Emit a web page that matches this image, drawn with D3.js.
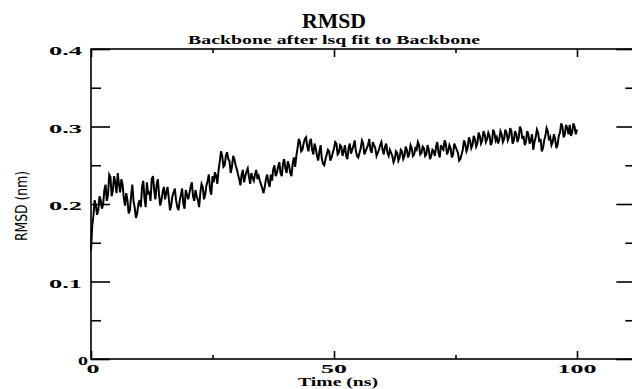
<!DOCTYPE html>
<html lang="en">
	<head>
		<meta charset="utf-8">
		<title>RMSD</title>
		<script src="https://d3js.org/d3.v7.min.js"></script>
		<style type="text/css">
			body {
				margin: 0;
				background: white;
			}
			text {
				font-family: "Liberation Serif", "DejaVu Serif", serif;
				font-weight: bold;
				fill: black;
			}
		</style>
	</head>
	<body>
		<script type="text/javascript">

			//RMSD values (nm), sampled every 0.25 ns from 0 to 100 ns
			var tEnd = 100;
			var rmsd = [
				0.140, 0.172, 0.185, 0.205, 0.198, 0.186, 0.192, 0.210, 0.205, 0.194, 0.200, 0.218, 0.225, 0.204, 0.212, 0.238, 0.235, 0.210, 0.218, 0.236, 0.228,
				0.214, 0.240, 0.226, 0.215, 0.232, 0.225, 0.208, 0.198, 0.214, 0.205, 0.188, 0.192, 0.210, 0.225, 0.204, 0.195, 0.182, 0.188, 0.200, 0.205,
				0.196, 0.222, 0.230, 0.208, 0.196, 0.228, 0.214, 0.215, 0.204, 0.232, 0.236, 0.218, 0.206, 0.225, 0.232, 0.212, 0.198, 0.205, 0.216, 0.222,
				0.206, 0.215, 0.222, 0.208, 0.192, 0.198, 0.210, 0.215, 0.220, 0.205, 0.196, 0.192, 0.204, 0.212, 0.220, 0.200, 0.194, 0.218, 0.212, 0.206,
				0.214, 0.222, 0.228, 0.210, 0.204, 0.218, 0.210, 0.205, 0.196, 0.215, 0.226, 0.222, 0.206, 0.212, 0.224, 0.230, 0.238, 0.218, 0.212, 0.236,
				0.228, 0.241, 0.236, 0.226, 0.244, 0.255, 0.268, 0.262, 0.248, 0.250, 0.262, 0.267, 0.258, 0.255, 0.240, 0.248, 0.262, 0.258, 0.250, 0.245,
				0.238, 0.232, 0.224, 0.238, 0.244, 0.228, 0.236, 0.242, 0.246, 0.235, 0.226, 0.240, 0.234, 0.230, 0.238, 0.244, 0.232, 0.236, 0.230, 0.225,
				0.220, 0.214, 0.222, 0.232, 0.238, 0.228, 0.222, 0.238, 0.230, 0.245, 0.250, 0.236, 0.240, 0.248, 0.254, 0.240, 0.236, 0.252, 0.258, 0.246,
				0.240, 0.255, 0.250, 0.240, 0.236, 0.252, 0.260, 0.248, 0.262, 0.272, 0.284, 0.280, 0.268, 0.270, 0.278, 0.284, 0.286, 0.274, 0.268, 0.280,
				0.284, 0.270, 0.264, 0.278, 0.272, 0.262, 0.256, 0.268, 0.276, 0.258, 0.252, 0.250, 0.258, 0.264, 0.270, 0.268, 0.256, 0.260, 0.266, 0.272,
				0.280, 0.278, 0.264, 0.266, 0.276, 0.274, 0.262, 0.268, 0.276, 0.262, 0.258, 0.272, 0.278, 0.265, 0.270, 0.275, 0.282, 0.268, 0.262, 0.260,
				0.266, 0.272, 0.282, 0.278, 0.264, 0.268, 0.272, 0.276, 0.284, 0.270, 0.266, 0.280, 0.276, 0.272, 0.262, 0.266, 0.270, 0.276, 0.280, 0.270,
				0.264, 0.274, 0.278, 0.266, 0.262, 0.270, 0.266, 0.262, 0.254, 0.258, 0.268, 0.266, 0.256, 0.260, 0.270, 0.268, 0.258, 0.262, 0.274, 0.270,
				0.260, 0.265, 0.276, 0.272, 0.262, 0.264, 0.272, 0.270, 0.280, 0.276, 0.264, 0.266, 0.274, 0.272, 0.262, 0.264, 0.276, 0.270, 0.258, 0.262,
				0.270, 0.268, 0.262, 0.274, 0.280, 0.266, 0.260, 0.276, 0.272, 0.270, 0.282, 0.278, 0.264, 0.268, 0.276, 0.272, 0.260, 0.264, 0.278, 0.274,
				0.270, 0.266, 0.256, 0.258, 0.264, 0.270, 0.282, 0.278, 0.268, 0.272, 0.286, 0.282, 0.272, 0.276, 0.288, 0.284, 0.274, 0.278, 0.292, 0.288,
				0.278, 0.282, 0.294, 0.290, 0.280, 0.284, 0.292, 0.288, 0.276, 0.280, 0.296, 0.292, 0.282, 0.286, 0.278, 0.283, 0.294, 0.290, 0.280, 0.284,
				0.296, 0.292, 0.282, 0.286, 0.298, 0.294, 0.278, 0.282, 0.294, 0.290, 0.280, 0.285, 0.300, 0.296, 0.284, 0.288, 0.276, 0.280, 0.294, 0.290,
				0.278, 0.282, 0.290, 0.270, 0.280, 0.286, 0.296, 0.292, 0.280, 0.284, 0.268, 0.272, 0.282, 0.288, 0.298, 0.294, 0.282, 0.286, 0.276, 0.280,
				0.290, 0.284, 0.272, 0.276, 0.288, 0.292, 0.304, 0.300, 0.286, 0.290, 0.302, 0.298, 0.290, 0.302, 0.288, 0.292, 0.304, 0.300, 0.290, 0.296
			];
			var timeStep = tEnd / (rmsd.length - 1);

			//Tick values
			var xMajor = [0, 50, 100];
			var xMinor = [25, 75];
			var yMajor = [0, 0.1, 0.2, 0.3, 0.4];
			var yMinor = [0.05, 0.15, 0.25, 0.35];

			//Width and height
			var w = 632;
			var h = 389;
			var plotLeft = 91, plotTop = 49, plotBottom = 359;
			var xMax = 112;

			//Create scale functions
			var xScale = d3.scaleLinear()
					.domain([0, xMax])
					.range([plotLeft, plotLeft + 4.86 * xMax]);

			var yScale = d3.scaleLinear()
					.domain([0, 0.4])
					.range([plotBottom, plotTop]);

			var plotRight = xScale(xMax);

			//Create SVG element
			var svg = d3.select("body")
						.append("svg")
						.attr("width", w)
						.attr("height", h);

			//Data line
			var line = d3.line()
					.x(function(d, i) { return xScale(i * timeStep); })
					.y(function(d) { return yScale(d); });

			svg.append("path")
				.datum(rmsd)
				.attr("d", line)
				.attr("fill", "none")
				.attr("stroke", "black")
				.attr("stroke-width", 2)
				.attr("stroke-linejoin", "miter");

			//Frame
			svg.append("rect")
				.attr("x", plotLeft)
				.attr("y", plotTop)
				.attr("width", plotRight - plotLeft)
				.attr("height", plotBottom - plotTop)
				.attr("fill", "none")
				.attr("stroke", "black")
				.attr("stroke-width", 1.6);

			//Axes (ticks point inwards)
			function tickAxis(axis, scale, values, size, pos) {
				var g = svg.append("g")
					.attr("transform", pos)
					.call(axis(scale).tickValues(values).tickSize(size).tickSizeOuter(0).tickFormat(""));
				g.select(".domain").remove();
				g.selectAll("line").attr("stroke-width", 1.6);
				return g;
			}

			tickAxis(d3.axisBottom, xScale, xMajor, -8, "translate(0," + plotBottom + ")");
			tickAxis(d3.axisBottom, xScale, xMinor, -4, "translate(0," + plotBottom + ")");
			tickAxis(d3.axisTop, xScale, xMajor, -8, "translate(0," + plotTop + ")");
			tickAxis(d3.axisTop, xScale, xMinor, -4, "translate(0," + plotTop + ")");
			tickAxis(d3.axisLeft, yScale, yMajor, -19, "translate(" + plotLeft + ",0)");
			tickAxis(d3.axisLeft, yScale, yMinor, -10, "translate(" + plotLeft + ",0)");
			tickAxis(d3.axisRight, yScale, yMajor, -19, "translate(" + plotRight + ",0)");
			tickAxis(d3.axisRight, yScale, yMinor, -10, "translate(" + plotRight + ",0)");

			//Y tick labels (wide bold font)
			svg.selectAll(".ylab")
				.data(yMajor)
				.enter()
				.append("text")
				.attr("class", "ylab")
				.attr("x", function(d) { return d === 0 ? 88 : 82; })
				.attr("y", function(d) { return yScale(d) + 6; })
				.attr("text-anchor", "end")
				.attr("font-size", "12px")
				.attr("textLength", function(d) { return d === 0 ? 10 : 33; })
				.attr("lengthAdjust", "spacingAndGlyphs")
				.text(function(d) { return d === 0 ? "0" : d.toFixed(1); });

			//X tick labels
			svg.selectAll(".xlab")
				.data(xMajor)
				.enter()
				.append("text")
				.attr("class", "xlab")
				.attr("x", function(d) { return xScale(d) + (d === 0 ? 2 : 0); })
				.attr("y", plotBottom + 14)
				.attr("text-anchor", "middle")
				.attr("font-size", "12px")
				.attr("textLength", function(d) { return String(d).length * 13; })
				.attr("lengthAdjust", "spacingAndGlyphs")
				.text(function(d) { return d; });

			//Axis labels
			svg.append("text")
				.attr("x", 338)
				.attr("y", 386)
				.attr("text-anchor", "middle")
				.attr("font-size", "12px")
				.attr("textLength", 80)
				.attr("lengthAdjust", "spacingAndGlyphs")
				.text("Time (ns)");

			svg.append("text")
				.attr("transform", "translate(27,206) rotate(-90)")
				.attr("text-anchor", "middle")
				.attr("font-size", "15px")
				.attr("textLength", 70)
				.attr("lengthAdjust", "spacingAndGlyphs")
				.style("font-family", "'DejaVu Sans Condensed', 'DejaVu Sans', sans-serif")
				.style("font-weight", "normal")
				.style("font-stretch", "condensed")
				.text("RMSD (nm)");

			//Titles
			svg.append("text")
				.attr("x", 334)
				.attr("y", 28)
				.attr("text-anchor", "middle")
				.attr("font-size", "20px")
				.attr("textLength", 64)
				.attr("lengthAdjust", "spacingAndGlyphs")
				.text("RMSD");

			svg.append("text")
				.attr("x", 334)
				.attr("y", 44)
				.attr("text-anchor", "middle")
				.attr("font-size", "12px")
				.attr("textLength", 292)
				.attr("lengthAdjust", "spacingAndGlyphs")
				.text("Backbone after lsq fit to Backbone");

		</script>
	</body>
</html>
